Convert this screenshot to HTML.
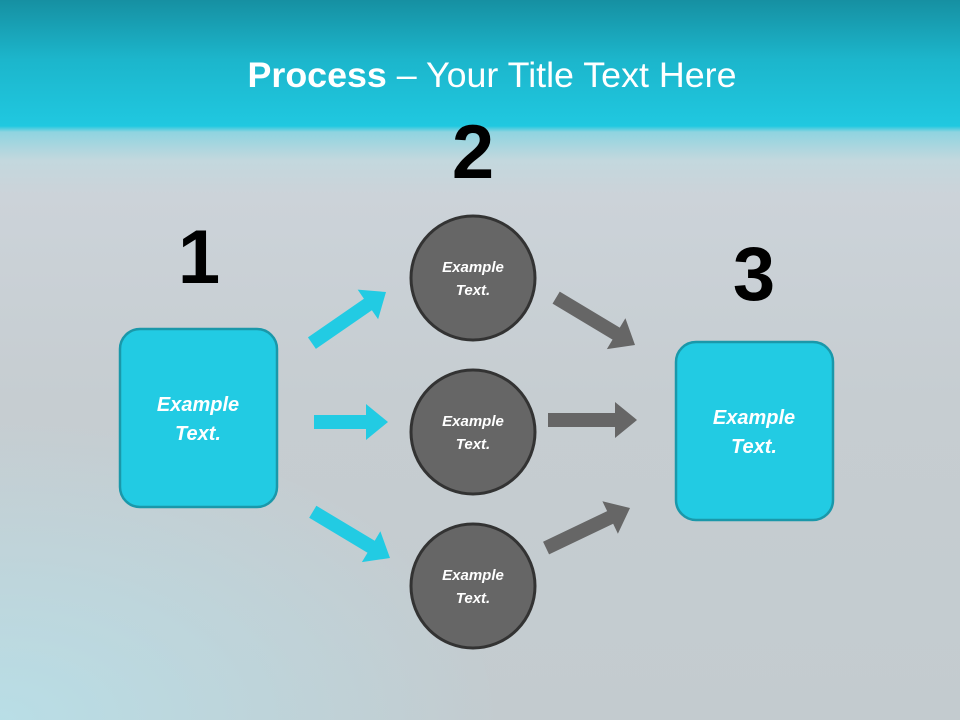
<!DOCTYPE html>
<html><head><meta charset="utf-8"><style>
html,body{margin:0;padding:0}
body{width:960px;height:720px;overflow:hidden;position:relative;font-family:"Liberation Sans",sans-serif}
.bg{position:absolute;inset:0;background:linear-gradient(180deg,#1690a2 0px,#1cb6cc 60px,#20c8e0 126px,#8fd4e0 132px,#c3d8de 160px,#ccd3d9 195px,#c6cdd1 400px,#c3cbcf 720px)}
.bg2{position:absolute;inset:0;background:radial-gradient(ellipse 500px 300px at 0px 720px,rgba(180,230,240,0.7),rgba(180,230,240,0) 100%)}
</style></head><body>
<div class="bg"></div><div class="bg2"></div>
<svg width="960" height="720" style="position:absolute;left:0;top:0" font-family="Liberation Sans, sans-serif">
<text x="492" y="87" text-anchor="middle" fill="#fff" font-size="35" textLength="489" lengthAdjust="spacingAndGlyphs"><tspan font-weight="bold">Process</tspan> – Your Title Text Here</text>
<text x="199" y="283" text-anchor="middle" font-size="76" font-weight="bold" fill="#000">1</text>
<text x="473" y="178" text-anchor="middle" font-size="76" font-weight="bold" fill="#000">2</text>
<text x="754" y="300" text-anchor="middle" font-size="76" font-weight="bold" fill="#000">3</text>
<g fill="#22cbe3">
<polygon transform="translate(386,292) rotate(-34.6)" points="0,0 -22,-18 -22,-7 -90,-7 -90,7 -22,7 -22,18"/>
<polygon transform="translate(388,422)" points="0,0 -22,-18 -22,-7 -74,-7 -74,7 -22,7 -22,18"/>
<polygon transform="translate(390,558) rotate(30.9)" points="0,0 -22,-18 -22,-7 -90,-7 -90,7 -22,7 -22,18"/>
</g>
<g fill="#666">
<polygon transform="translate(635,345) rotate(31)" points="0,0 -22,-18 -22,-7 -92,-7 -92,7 -22,7 -22,18"/>
<polygon transform="translate(637,420)" points="0,0 -22,-18 -22,-7 -89,-7 -89,7 -22,7 -22,18"/>
<polygon transform="translate(630,508) rotate(-25.5)" points="0,0 -22,-18 -22,-7 -93,-7 -93,7 -22,7 -22,18"/>
</g>
<g fill="#666" stroke="#333" stroke-width="3">
<circle cx="473" cy="278" r="62"/>
<circle cx="473" cy="432" r="62"/>
<circle cx="473" cy="586" r="62"/>
</g>
<g fill="#22cbe3" stroke="#1a98aa" stroke-width="2.5">
<rect x="120" y="329" width="157" height="178" rx="20"/>
<rect x="676" y="342" width="157" height="178" rx="20"/>
</g>
<g fill="#fff" font-style="italic" font-weight="bold" text-anchor="middle">
<text x="198" y="411" font-size="20">Example</text>
<text x="198" y="440" font-size="20">Text.</text>
<text x="754" y="424" font-size="20">Example</text>
<text x="754" y="453" font-size="20">Text.</text>
<g font-size="15">
<text x="473" y="272">Example</text><text x="473" y="295">Text.</text>
<text x="473" y="426">Example</text><text x="473" y="449">Text.</text>
<text x="473" y="580">Example</text><text x="473" y="603">Text.</text>
</g>
</g>
</svg>
</body></html>
